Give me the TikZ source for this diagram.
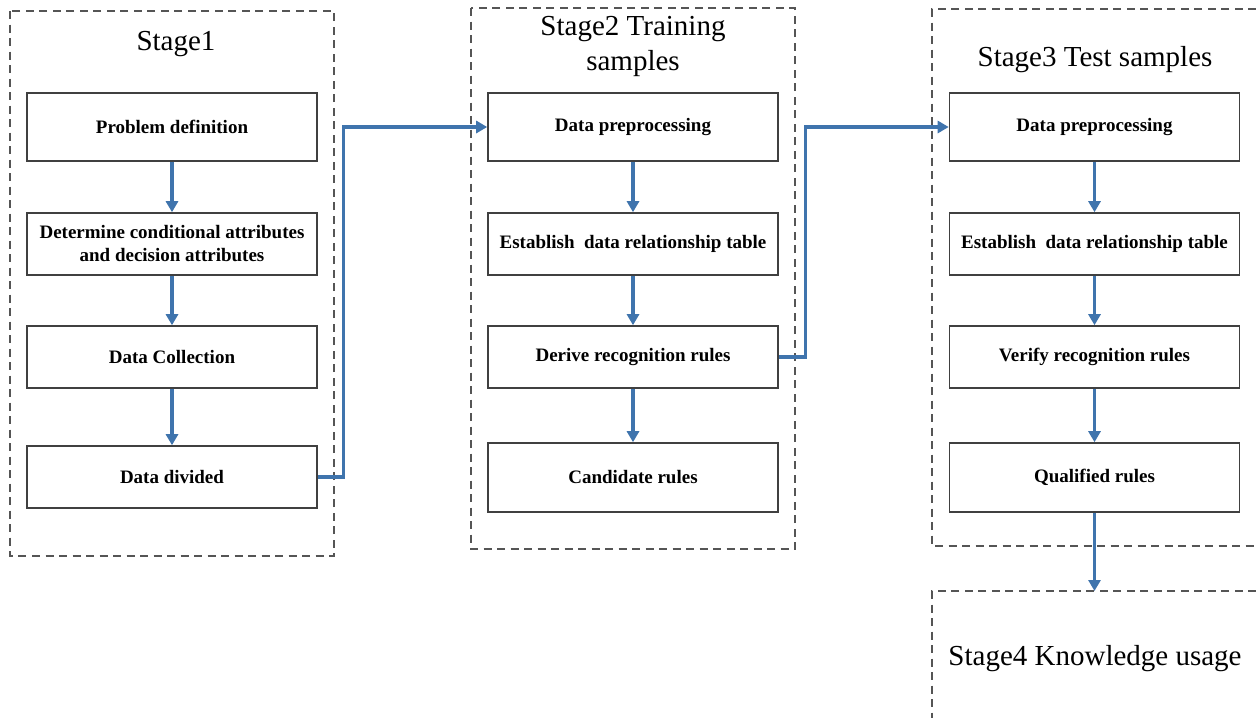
\documentclass[tikz,border=0pt]{standalone}
\usepackage{fontspec}
\setmainfont{Liberation Serif}
\usetikzlibrary{arrows.meta,calc}
\definecolor{flowblue}{HTML}{3F74AD}
\definecolor{frame}{HTML}{555555}
\definecolor{boxline}{HTML}{404040}
\begin{document}
\begin{tikzpicture}[x=1pt,y=-1pt,
  stagebox/.style={draw=frame,line width=1.6pt,dash pattern=on 8pt off 5.5pt},
  stagetitle/.style={font=\fontsize{29}{35}\selectfont,align=center,inner sep=0pt},
  stepbox/.style={draw=boxline,line width=1.6pt,minimum width=290pt,
    font=\fontsize{19}{23}\selectfont\bfseries,align=center,inner sep=0pt},
  flow/.style={draw=flowblue,line width=3.2pt,-{Triangle[length=11pt,width=12pt]}}]
\useasboundingbox (0,0) rectangle (1256,718);
\fill[white] (0,0) rectangle (1256,718);

% stage frames
\draw[stagebox] (10,11) rectangle (334,556);
\draw[stagebox] (471,8) rectangle (795,549);
\draw[stagebox] (1256,9) -- (932,9) -- (932,546) -- (1256,546);
\draw[stagebox] (1256,591) -- (932,591) -- (932,718);

% stage titles
\node[stagetitle] (t1) at (176,44) {Stage1};
\node[stagetitle] (t2) at (633,46) {Stage2 Training\\samples};
\node[stagetitle] (t3) at (1095,60) {Stage3 Test samples};
\node[stagetitle] (t4) at (1095,659) {Stage4 Knowledge usage};

% stage 1
\node[stepbox,minimum height=68pt] (a1) at (172,127) {Problem definition};
\node[stepbox,minimum height=62pt] (a2) at (172,244) {Determine conditional attributes\\and decision attributes};
\node[stepbox,minimum height=62pt] (a3) at (172,357) {Data Collection};
\node[stepbox,minimum height=62pt] (a4) at (172,477) {Data divided};

% stage 2
\node[stepbox,minimum height=68pt] (b1) at (633,127) {Data preprocessing};
\node[stepbox,minimum height=62pt] (b2) at (633,244) {Establish\ \ data relationship table};
\node[stepbox,minimum height=62pt] (b3) at (633,357) {Derive recognition rules};
\node[stepbox,minimum height=69pt] (b4) at (633,477.5) {Candidate rules};

% stage 3
\node[stepbox,minimum height=68pt] (c1) at (1094.5,127) {Data preprocessing};
\node[stepbox,minimum height=62pt] (c2) at (1094.5,244) {Establish\ \ data relationship table};
\node[stepbox,minimum height=62pt] (c3) at (1094.5,357) {Verify recognition rules};
\node[stepbox,minimum height=69pt] (c4) at (1094.5,477.5) {Qualified rules};

\coordinate (k4) at (1094.5,591);

% arrows within stages
\draw[flow] (a1) -- (a2);
\draw[flow] (a2) -- (a3);
\draw[flow] (a3) -- (a4);
\draw[flow] (b1) -- (b2);
\draw[flow] (b2) -- (b3);
\draw[flow] (b3) -- (b4);
\draw[flow] (c1) -- (c2);
\draw[flow] (c2) -- (c3);
\draw[flow] (c3) -- (c4);

% arrows between stages
\draw[flow] (a4.east) -- ++(26,0) |- (b1.west);
\draw[flow] (b3.east) -- ++(27,0) |- (c1.west);
\draw[flow] (c4.south) -- (k4);
\end{tikzpicture}
\end{document}
